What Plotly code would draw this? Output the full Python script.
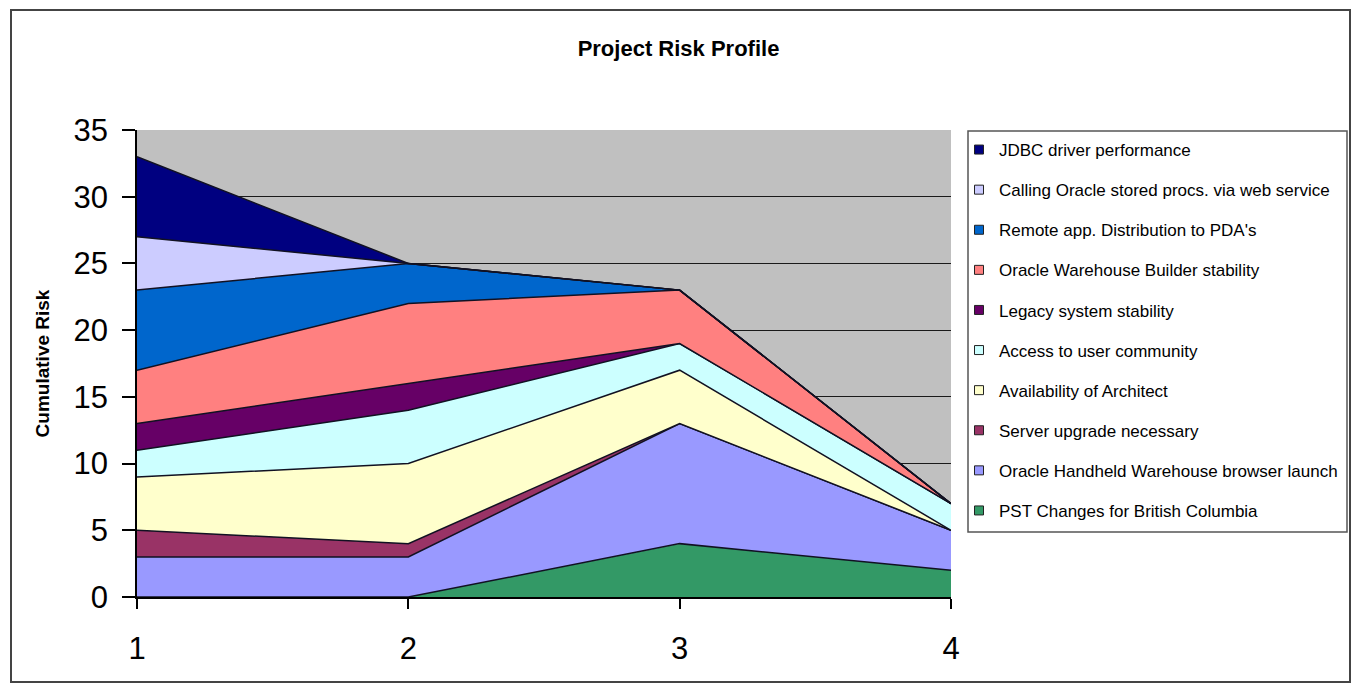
import plotly.graph_objects as go

# Review periods
periods = [1, 2, 3, 4]

# Risk scores per item (stacked bottom to top)
pst_changes = [0, 0, 4, 2]
handheld_launch = [3, 3, 9, 3]
server_upgrade = [2, 1, 0, 0]
architect_availability = [4, 6, 4, 0]
user_community_access = [2, 4, 2, 2]
legacy_stability = [2, 2, 0, 0]
owb_stability = [4, 6, 4, 0]
remote_distribution = [6, 3, 0, 0]
stored_procs_ws = [4, 0, 0, 0]
jdbc_performance = [6, 0, 0, 0]

series = [
    ("PST Changes for British Columbia", pst_changes, "#339966"),
    ("Oracle Handheld Warehouse browser launch", handheld_launch, "#9999FF"),
    ("Server upgrade necessary", server_upgrade, "#993366"),
    ("Availability of Architect", architect_availability, "#FFFFCC"),
    ("Access to user community", user_community_access, "#CCFFFF"),
    ("Legacy system stability", legacy_stability, "#660066"),
    ("Oracle Warehouse Builder stability", owb_stability, "#FF8080"),
    ("Remote app. Distribution to PDA's", remote_distribution, "#0066CC"),
    ("Calling Oracle stored procs. via web service", stored_procs_ws, "#CCCCFF"),
    ("JDBC driver performance", jdbc_performance, "#000080"),
]

FONT = "Arial, Liberation Sans, sans-serif"

# Figure geometry (pixels)
W, H = 1357, 692
L, R, T, B = 137, 951, 130, 597


def px(x):
    return (x - L) / (R - L)


def py(y):
    return (B - y) / (B - T)


fig = go.Figure()

# Stacked areas
for name, vals, color in series:
    fig.add_trace(go.Scatter(
        x=periods, y=vals, name=name, stackgroup="risk",
        mode="lines", line=dict(color="#111122", width=1.5),
        fillcolor=color, showlegend=False, hoverinfo="x+y+name",
    ))

# Legend entries with square swatches, listed top of stack first
for name, vals, color in reversed(series):
    fig.add_trace(go.Scatter(
        x=[None], y=[None], name=name, mode="markers",
        marker=dict(symbol="square", size=9, color=color,
                    line=dict(color="#222222", width=1)),
        legendgroup=name, showlegend=True,
    ))

# Outer chart frame and legend box
fig.add_shape(type="rect", xref="paper", yref="paper",
              x0=px(11), x1=px(1350), y0=py(682), y1=py(10),
              line=dict(color="#444444", width=2), fillcolor="rgba(0,0,0,0)",
              layer="below")
fig.add_shape(type="rect", xref="paper", yref="paper",
              x0=px(968), x1=px(1347), y0=py(532), y1=py(131),
              line=dict(color="#555555", width=1.5), fillcolor="rgba(0,0,0,0)")

fig.update_layout(
    width=W, height=H,
    margin=dict(l=L, r=W - R, t=T, b=H - B, autoexpand=False),
    paper_bgcolor="white",
    plot_bgcolor="#C0C0C0",
    font=dict(family=FONT, color="black"),
    title=dict(text="<b>Project Risk Profile</b>", x=0.5, xref="container",
               xanchor="center", y=1 - 48 / H, yanchor="middle",
               font=dict(size=22, family=FONT)),
    showlegend=True,
    legend=dict(
        x=px(959), y=py(132), xanchor="left", yanchor="top",
        xref="paper", yref="paper",
        traceorder="grouped", tracegroupgap=15,
        font=dict(size=17, family=FONT),
        bgcolor="rgba(0,0,0,0)", borderwidth=0,
        itemclick=False, itemdoubleclick=False,
    ),
    xaxis=dict(
        range=[1, 4], tickvals=periods, ticktext=[str(p) for p in periods],
        showgrid=False, zeroline=False,
        showline=True, linecolor="black", linewidth=1.5,
        ticks="outside", ticklen=10, tickwidth=1.5, tickcolor="black",
        tickfont=dict(size=31, family=FONT), ticklabelstandoff=13,
    ),
    yaxis=dict(
        range=[0, 35], dtick=5, tick0=0,
        showgrid=True, gridcolor="#1a1a1a", gridwidth=1,
        zeroline=False,
        showline=True, linecolor="black", linewidth=1.5,
        ticks="outside", ticklen=13, tickwidth=1.5, tickcolor="black",
        tickfont=dict(size=31, family=FONT), ticklabelstandoff=8,
        title=dict(text="<b>Cumulative Risk</b>", standoff=19,
                   font=dict(size=19, family=FONT)),
    ),
)

fig.write_html("out.html")
